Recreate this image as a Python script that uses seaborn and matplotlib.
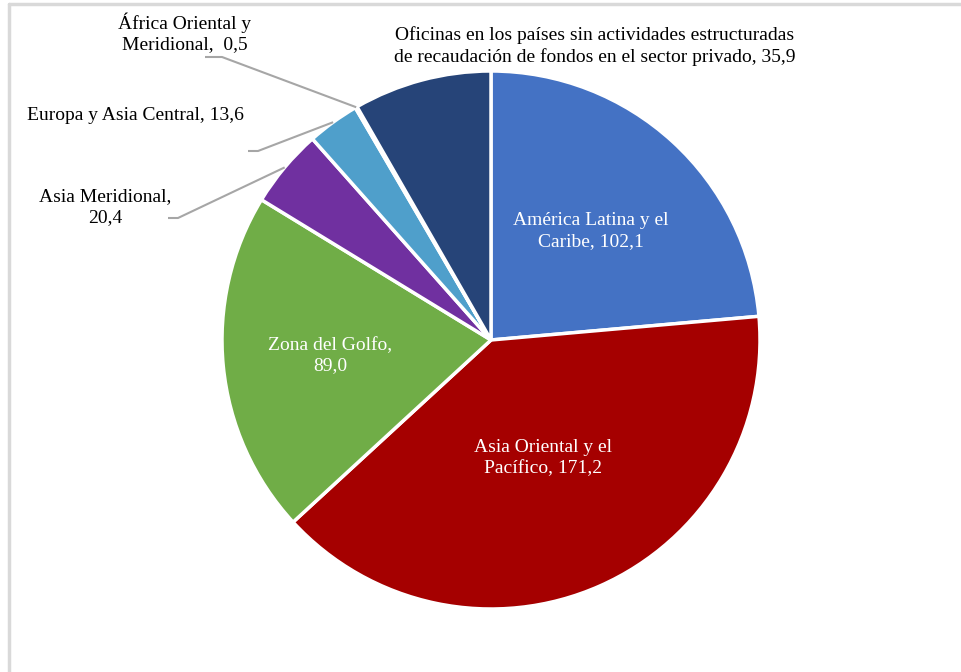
import numpy as np
import matplotlib
matplotlib.use("Agg")
import matplotlib.pyplot as plt
import seaborn as sns

# data
regions = [
    "América Latina y el\nCaribe, 102,1",
    "Asia Oriental y el\nPacífico, 171,2",
    "Zona del Golfo,\n89,0",
    "Asia Meridional,\n20,4",
    "Europa y Asia Central, 13,6",
    "África Oriental y\nMeridional,  0,5",
    "Oficinas en los países sin actividades estructuradas\nde recaudación de fondos en el sector privado, 35,9",
]
values = [102.1, 171.2, 89.0, 20.4, 13.6, 0.5, 35.9]
colors = ["#4472C4", "#A50000", "#70AD47", "#7030A0", "#4F9FCB", "#5B7FB8", "#264478"]

sns.set_theme(style="white")
plt.rcParams["font.family"] = ["Liberation Serif", "DejaVu Serif"]

W, H = 961, 672
fig = plt.figure(figsize=(W / 100, H / 100), dpi=100)
ax = fig.add_axes([0, 0, 1, 1])
ax.axis("off")

cx, cy, R = 491, H - 340, 269
wedges, _ = ax.pie(values, colors=colors, startangle=90, counterclock=False,
                   center=(cx, cy), radius=R,
                   wedgeprops=dict(edgecolor="white", linewidth=2.5))
ax.set_xlim(0, W)
ax.set_ylim(0, H)
ax.set_aspect("equal")

FS = 14
LS = 1.28


def mid(w):
    return np.deg2rad((w.theta1 + w.theta2) / 2)


# labels inside the big slices
inside = {0: 0.55, 1: 0.48, 2: 0.6}
for i, f in inside.items():
    a = mid(wedges[i])
    ax.text(cx + f * R * np.cos(a), cy + f * R * np.sin(a), regions[i],
            ha="center", va="center", color="white", fontsize=FS,
            linespacing=LS)

# outside labels with leader lines
gray = "#A6A6A6"
outside = {
    3: ((105, 207), (168, 218), (178, 218)),
    4: ((135, 116), (248, 151), (258, 151)),
    5: ((185, 33), (205, 57), (222, 57)),
}
for i, ((tx, ty), (x0, y0), (x1, y1)) in outside.items():
    ax.text(tx, H - ty, regions[i], ha="center", va="center", fontsize=FS,
            linespacing=LS, color="black")
    a = mid(wedges[i])
    ex, ey = cx + R * np.cos(a), cy + R * np.sin(a)
    ax.plot([x0, x1, ex], [H - y0, H - y1, ey], color=gray, lw=1.5,
            solid_capstyle="butt")

ax.text(595, H - 46, regions[6], ha="center", va="center", fontsize=FS,
        linespacing=LS, color="black")

# light frame at the top and left edge
ax.plot([8.5, W], [H - 3.5, H - 3.5], color="#D9D9D9", lw=2.5, clip_on=False)
ax.plot([8.5, 8.5], [0, H - 3.5], color="#D9D9D9", lw=2.5, clip_on=False)

fig.savefig("out.png", dpi=100)
